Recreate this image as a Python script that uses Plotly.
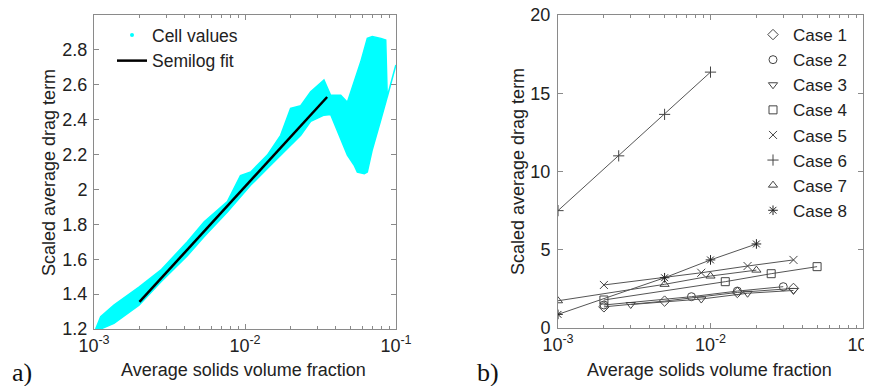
import plotly.graph_objects as go

# ---------------- Panel a data ----------------
# Envelope of the cyan "cell values" cloud
cloud_upper_x = [0.001026, 0.001107, 0.001355, 0.001986, 0.002767, 0.00415, 0.00537,
                 0.007638, 0.009333, 0.010914, 0.01406, 0.017219, 0.020045, 0.023388,
                 0.027227, 0.033343, 0.036898, 0.043053, 0.047643, 0.052723, 0.058345,
                 0.064565, 0.069663, 0.079433, 0.085507, 0.087498, 0.0998]
cloud_upper_y = [1.20, 1.27, 1.337, 1.44, 1.537, 1.70, 1.815,
                 1.93, 2.08, 2.10, 2.197, 2.31, 2.465, 2.48,
                 2.56, 2.627, 2.54, 2.54, 2.50, 2.62, 2.73,
                 2.866, 2.876, 2.866, 2.857, 2.53, 2.713]
cloud_lower_x = [0.001026, 0.001107, 0.001355, 0.001986, 0.002767, 0.00415, 0.00537,
                 0.007638, 0.009333, 0.010914, 0.01406, 0.017219, 0.020045, 0.023388,
                 0.027227, 0.033343, 0.036898, 0.043053, 0.047643, 0.052723, 0.055463,
                 0.06166, 0.064565, 0.069663, 0.079433, 0.085507, 0.0998]
cloud_lower_y = [1.20, 1.20, 1.232, 1.337, 1.47, 1.62, 1.73,
                 1.87, 1.957, 2.025, 2.12, 2.197, 2.254, 2.31,
                 2.39, 2.426, 2.43, 2.29, 2.197, 2.14, 2.10,
                 2.09, 2.10, 2.228, 2.40, 2.50, 2.70]
fit_x = [0.002, 0.035]
fit_y = [1.355, 2.53]

a_xticks = [0.001, 0.01, 0.1]
a_xticktext = ["10<sup>-3</sup>", "10<sup>-2</sup>", "10<sup>-1</sup>"]
a_yticks = [1.2, 1.4, 1.6, 1.8, 2.0, 2.2, 2.4, 2.6, 2.8]
a_yticktext = ["1.2", "1.4", "1.6", "1.8", "2", "2.2", "2.4", "2.6", "2.8"]

# ---------------- Panel b data ----------------
case_names = ["Case 1", "Case 2", "Case 3", "Case 4", "Case 5", "Case 6", "Case 7", "Case 8"]
case1_x = [0.002, 0.005, 0.015, 0.035]
case1_y = [1.35, 1.72, 2.27, 2.53]
case2_x = [0.002, 0.0075, 0.015, 0.03]
case2_y = [1.47, 2.0, 2.36, 2.64]
case3_x = [0.003, 0.0087, 0.0175, 0.035]
case3_y = [1.5, 1.85, 2.22, 2.4]
case4_x = [0.002, 0.0125, 0.025, 0.05]
case4_y = [1.79, 2.96, 3.47, 3.92]
case5_x = [0.002, 0.0087, 0.0175, 0.035]
case5_y = [2.75, 3.53, 3.96, 4.35]
case6_x = [0.001, 0.0025, 0.005, 0.01]
case6_y = [7.5, 11.0, 13.65, 16.35]
case7_x = [0.001, 0.005, 0.01, 0.02]
case7_y = [1.74, 2.79, 3.32, 3.7]
case8_x = [0.001, 0.005, 0.01, 0.02]
case8_y = [0.87, 3.21, 4.35, 5.37]
case_symbols = ["diamond-open", "circle-open", "triangle-down-open", "square-open",
                "x-thin-open", "cross-thin-open", "triangle-up-open", "asterisk-open"]

b_xticks = [0.001, 0.01, 0.1]
b_xticktext = ["10<sup>-3</sup>", "10<sup>-2</sup>", "10<sup>-1</sup>"]
b_yticks = [0, 5, 10, 15, 20]

minor_vals = [k * 10 ** e for e in (-3, -2) for k in range(2, 10)]

# The page body has an 8px margin: the figure is placed at (8, 8) in the window.
OX, OY = 8, 8
W, H = 872 - OX, 386 - OY


def px(x):
    return (x - OX) / W


def py(y):
    return 1 - (y - OY) / H


FONT = "Liberation Sans, Arial, sans-serif"
AX = "#8a8a8a"
CYAN = "#00ffff"

fig = go.Figure()

# Cloud fill
poly_x = cloud_upper_x + cloud_lower_x[::-1]
poly_y = cloud_upper_y + cloud_lower_y[::-1]
fig.add_trace(go.Scatter(x=poly_x, y=poly_y, mode="lines", fill="toself",
                         fillcolor=CYAN, line=dict(color=CYAN, width=1.5),
                         showlegend=False, hoverinfo="skip", xaxis="x", yaxis="y"))
fig.add_trace(go.Scatter(x=[None], y=[None], mode="markers", name="Cell values",
                         marker=dict(color=CYAN, size=4), legend="legend",
                         xaxis="x", yaxis="y"))
fig.add_trace(go.Scatter(x=fit_x, y=fit_y, mode="lines", name="Semilog fit",
                         line=dict(color="black", width=2.5), legend="legend",
                         xaxis="x", yaxis="y"))

cases_x = [case1_x, case2_x, case3_x, case4_x, case5_x, case6_x, case7_x, case8_x]
cases_y = [case1_y, case2_y, case3_y, case4_y, case5_y, case6_y, case7_y, case8_y]
for i in range(8):
    mcol = "#222" if i == 7 else "#444"
    fig.add_trace(go.Scatter(x=cases_x[i], y=cases_y[i], mode="lines+markers",
                             line=dict(color="#555", width=1),
                             marker=dict(symbol=case_symbols[i], size=8, color=mcol,
                                         line=dict(color=mcol, width=1)),
                             showlegend=False, xaxis="x2", yaxis="y2"))
for i in range(8):
    mcol = "#222" if i == 7 else "#444"
    fig.add_trace(go.Scatter(x=[None], y=[None], mode="markers", name=case_names[i],
                             marker=dict(symbol=case_symbols[i], size=8, color=mcol,
                                         line=dict(color=mcol, width=1)),
                             legend="legend2", xaxis="x2", yaxis="y2"))

common = dict(showline=True, linecolor=AX, linewidth=1, mirror="ticks", ticks="inside",
              tickcolor=AX, ticklen=5, showgrid=False, zeroline=False, automargin=False,
              ticklabeloverflow="allow",
              tickfont=dict(family=FONT, size=18, color="#222"))

fig.update_layout(
    width=W, height=H, margin=dict(l=0, r=0, t=0, b=0, autoexpand=False),
    paper_bgcolor="white", plot_bgcolor="white",
    xaxis=dict(domain=[px(94), px(396)], type="log", range=[-3, -1],
               tickmode="array", tickvals=a_xticks, ticktext=a_xticktext,
               minor=dict(tickmode="array", tickvals=minor_vals, ticks="inside",
                          ticklen=3, tickcolor=AX, showgrid=False),
               anchor="y", **common),
    yaxis=dict(domain=[py(329), py(15)], range=[1.2, 3.0],
               tickmode="array", tickvals=a_yticks, ticktext=a_yticktext,
               anchor="x", ticklabelstandoff=2, **common),
    xaxis2=dict(domain=[px(558), px(863)], type="log", range=[-3, -1],
                tickmode="array", tickvals=b_xticks, ticktext=b_xticktext,
                minor=dict(tickmode="array", tickvals=minor_vals, ticks="inside",
                           ticklen=3, tickcolor=AX, showgrid=False),
                anchor="y2", **common),
    yaxis2=dict(domain=[py(328), py(15)], range=[0, 20],
                tickmode="array", tickvals=b_yticks,
                anchor="x2", ticklabelstandoff=3, **common),
    legend=dict(x=px(112), y=py(17), xanchor="left", yanchor="top",
                bgcolor="rgba(0,0,0,0)", borderwidth=0, tracegroupgap=0,
                font=dict(family=FONT, size=17.5, color="#222")),
    legend2=dict(x=px(753), y=py(17), xanchor="left", yanchor="top",
                 bgcolor="rgba(0,0,0,0)", borderwidth=0, tracegroupgap=0,
                 font=dict(family=FONT, size=17, color="#222")),
    showlegend=True,
)

ann_font = dict(family=FONT, size=18, color="#222")
fig.add_annotation(text="Average solids volume fraction", x=px(243), y=py(370),
                   xref="paper", yref="paper", showarrow=False, font=ann_font,
                   xanchor="center", yanchor="middle")
fig.add_annotation(text="Average solids volume fraction", x=px(709), y=py(370),
                   xref="paper", yref="paper", showarrow=False, font=ann_font,
                   xanchor="center", yanchor="middle")
fig.add_annotation(text="Scaled average drag term", x=px(49), y=py(173),
                   xref="paper", yref="paper", showarrow=False, font=ann_font,
                   textangle=-90, xanchor="center", yanchor="middle")
fig.add_annotation(text="Scaled average drag term", x=px(518), y=py(172),
                   xref="paper", yref="paper", showarrow=False, font=ann_font,
                   textangle=-90, xanchor="center", yanchor="middle")
serif = dict(family="Liberation Serif, Times New Roman, serif", size=26, color="#111")
fig.add_annotation(text="a)", x=px(10), y=py(372), xref="paper", yref="paper",
                   showarrow=False, font=serif, xanchor="left", yanchor="middle")
fig.add_annotation(text="b)", x=px(475), y=py(372), xref="paper", yref="paper",
                   showarrow=False, font=serif, xanchor="left", yanchor="middle")

fig.write_html("out.html")
